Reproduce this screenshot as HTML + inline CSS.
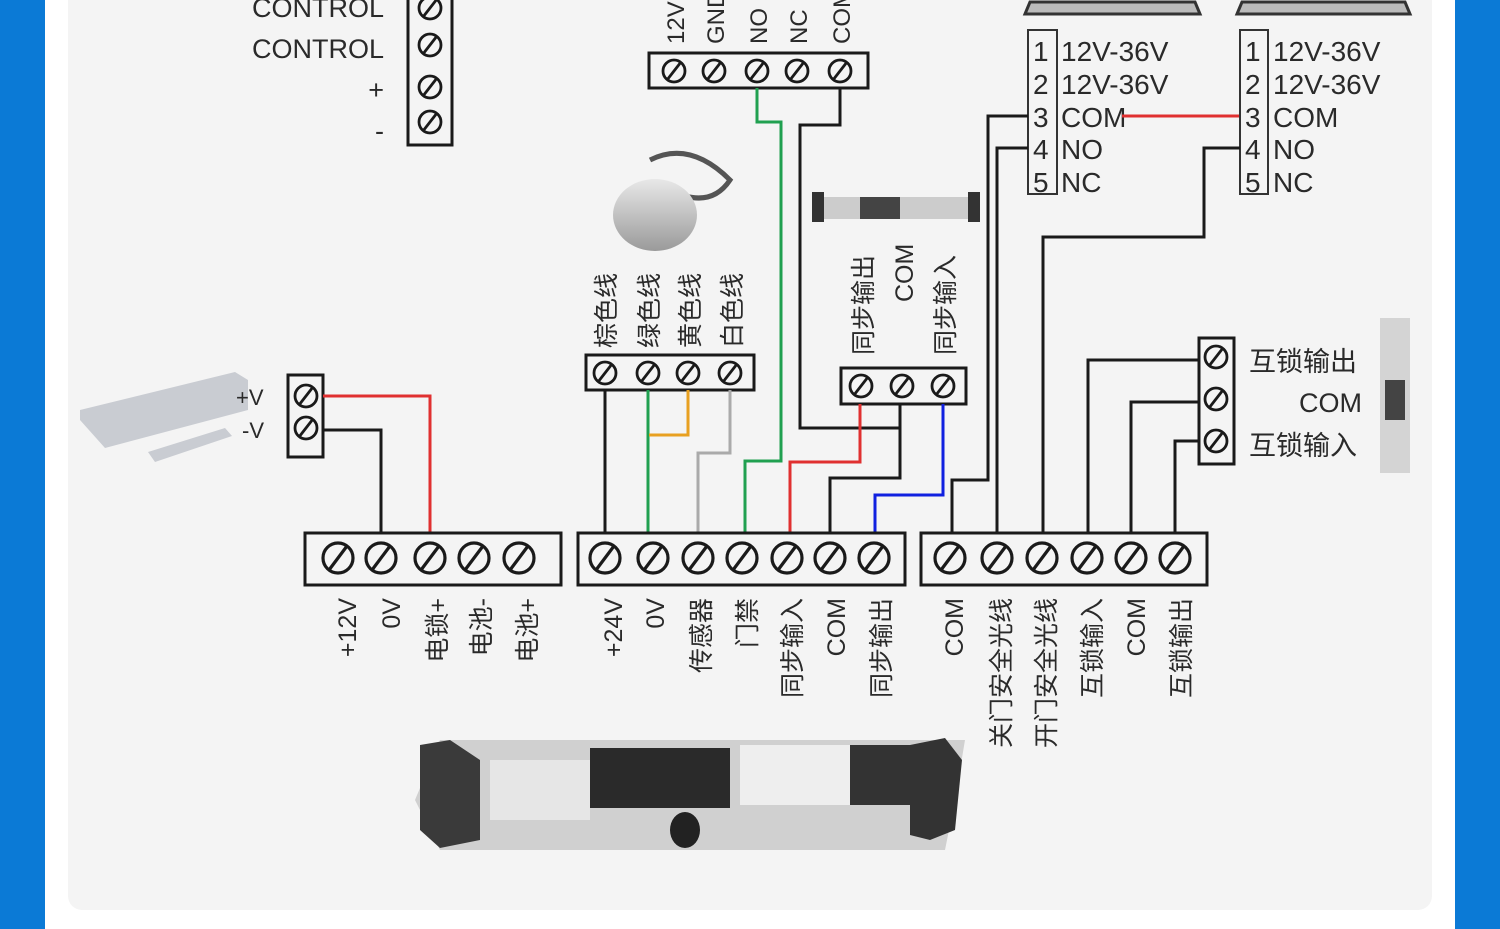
<!DOCTYPE html>
<html><head><meta charset="utf-8"><style>
html,body{margin:0;padding:0;width:1500px;height:929px;overflow:hidden;background:#0b7ad6;}
svg{display:block}
text{font-family:"Liberation Sans","Noto Sans CJK SC",sans-serif;fill:#2a2a2a}
</style></head><body>
<svg width="1500" height="929" viewBox="0 0 1500 929">
<defs>
<g id="s"><circle r="15" fill="none" stroke="#1a1a1a" stroke-width="3.2"/><line x1="9" y1="-12" x2="-9" y2="12" stroke="#1a1a1a" stroke-width="3.2"/></g>
<g id="m"><circle r="11" fill="none" stroke="#1a1a1a" stroke-width="2.8"/><line x1="7" y1="-9" x2="-7" y2="9" stroke="#1a1a1a" stroke-width="2.8"/></g>
<linearGradient id="g1" x1="0" y1="0" x2="0" y2="1"><stop offset="0" stop-color="#e8e8e8"/><stop offset="1" stop-color="#9a9a9a"/></linearGradient>
</defs>
<rect x="0" y="0" width="1500" height="929" fill="#0b7ad6"/>
<rect x="45" y="0" width="1410" height="929" fill="#ffffff"/>
<rect x="68" y="-30" width="1364" height="940" rx="14" fill="#f4f4f4"/>

<!-- top-left control block -->
<rect x="408" y="-10" width="44" height="155" fill="none" stroke="#1a1a1a" stroke-width="3"/>
<use href="#m" x="430" y="8"/><use href="#m" x="430" y="45"/><use href="#m" x="430" y="87"/><use href="#m" x="430" y="122"/>
<g font-size="27" text-anchor="end"><text x="384" y="17">CONTROL</text><text x="384" y="58">CONTROL</text><text x="384" y="99">+</text><text x="384" y="140">-</text></g>

<!-- top block 12V GND NO NC COM -->
<rect x="649" y="53" width="219" height="35" fill="none" stroke="#1a1a1a" stroke-width="3"/>
<use href="#m" x="674" y="71"/><use href="#m" x="714" y="71"/><use href="#m" x="757" y="71"/><use href="#m" x="797" y="71"/><use href="#m" x="840" y="71"/>
<g font-size="24"><text transform="translate(684,44) rotate(-90)">12V</text><text transform="translate(724,44) rotate(-90)">GND</text><text transform="translate(767,44) rotate(-90)">NO</text><text transform="translate(807,44) rotate(-90)">NC</text><text transform="translate(850,44) rotate(-90)">COM</text></g>

<!-- relay boxes -->
<path d="M1025 14 L1030 2 L1195 2 L1200 14 Z" fill="#bbb" stroke="#333" stroke-width="3"/>
<path d="M1237 14 L1242 2 L1405 2 L1410 14 Z" fill="#bbb" stroke="#333" stroke-width="3"/>
<rect x="1028" y="30" width="29" height="164" fill="none" stroke="#333" stroke-width="2"/>
<rect x="1240" y="30" width="28" height="164" fill="none" stroke="#333" stroke-width="2"/>
<g font-size="28"><text x="1033" y="61">1</text><text x="1033" y="94">2</text><text x="1033" y="127">3</text><text x="1033" y="159">4</text><text x="1033" y="192">5</text>
<text x="1061" y="61">12V-36V</text><text x="1061" y="94">12V-36V</text><text x="1061" y="127">COM</text><text x="1061" y="159">NO</text><text x="1061" y="192">NC</text>
<text x="1245" y="61">1</text><text x="1245" y="94">2</text><text x="1245" y="127">3</text><text x="1245" y="159">4</text><text x="1245" y="192">5</text>
<text x="1273" y="61">12V-36V</text><text x="1273" y="94">12V-36V</text><text x="1273" y="127">COM</text><text x="1273" y="159">NO</text><text x="1273" y="192">NC</text></g>
<line x1="1122" y1="116" x2="1239" y2="116" stroke="#e03030" stroke-width="3"/>

<!-- sensor dome image -->
<path d="M650 160 q40 -20 80 20 q-20 30 -60 10" fill="none" stroke="#555" stroke-width="5"/>
<ellipse cx="655" cy="215" rx="42" ry="36" fill="url(#g1)"/>
<!-- small operator image -->
<rect x="815" y="197" width="160" height="22" fill="#ccc"/><rect x="860" y="197" width="40" height="22" fill="#444"/><rect x="812" y="192" width="12" height="30" fill="#333"/><rect x="968" y="192" width="12" height="30" fill="#333"/>
<!-- lock image -->
<path d="M80 410 L235 372 L248 380 L248 410 L105 448 L80 420 Z" fill="#c9ccd2"/>
<path d="M148 452 L225 428 L232 436 L155 462 Z" fill="#c9ccd2"/>
<!-- right sensor image -->
<rect x="1380" y="318" width="30" height="155" fill="#d4d4d4"/><rect x="1385" y="380" width="20" height="40" fill="#444"/>
<!-- big operator image -->
<path d="M415 800 L440 740 L965 740 L955 800 L945 850 L440 850 Z" fill="#d0d0d0"/>
<path d="M420 745 L450 740 L480 760 L480 840 L440 848 L420 830 Z" fill="#3a3a3a"/>
<rect x="590" y="748" width="140" height="60" fill="#2a2a2a"/><rect x="740" y="745" width="110" height="60" fill="#eee"/>
<rect x="850" y="745" width="60" height="60" fill="#333"/><path d="M910 745 L945 738 L962 760 L955 830 L930 840 L910 835 Z" fill="#333"/>
<rect x="490" y="760" width="100" height="60" fill="#e6e6e6"/><ellipse cx="685" cy="830" rx="15" ry="18" fill="#222"/>

<!-- sensor wire block -->
<rect x="586" y="355" width="168" height="35" fill="none" stroke="#1a1a1a" stroke-width="3"/>
<use href="#m" x="605" y="373"/><use href="#m" x="648" y="373"/><use href="#m" x="688" y="373"/><use href="#m" x="730" y="373"/>
<g font-size="25"><text transform="translate(615,348) rotate(-90)">棕色线</text><text transform="translate(658,348) rotate(-90)">绿色线</text><text transform="translate(699,348) rotate(-90)">黄色线</text><text transform="translate(741,348) rotate(-90)">白色线</text></g>

<!-- sync block -->
<rect x="841" y="368" width="125" height="36" fill="none" stroke="#1a1a1a" stroke-width="3"/>
<use href="#m" x="861" y="386"/><use href="#m" x="902" y="386"/><use href="#m" x="943" y="386"/>
<g font-size="25"><text transform="translate(872,355) rotate(-90)">同步输出</text><text transform="translate(913,302) rotate(-90)">COM</text><text transform="translate(954,355) rotate(-90)">同步输入</text></g>

<!-- lock block -->
<rect x="288" y="375" width="35" height="82" fill="none" stroke="#1a1a1a" stroke-width="3"/>
<use href="#m" x="306" y="396"/><use href="#m" x="306" y="428"/>
<g font-size="22"><text x="236" y="405">+V</text><text x="242" y="438">-V</text></g>

<!-- interlock block -->
<rect x="1199" y="338" width="35" height="126" fill="none" stroke="#1a1a1a" stroke-width="3"/>
<use href="#m" x="1216" y="357"/><use href="#m" x="1216" y="399"/><use href="#m" x="1216" y="441"/>
<g font-size="27"><text x="1249" y="371">互锁输出</text><text x="1299" y="412">COM</text><text x="1249" y="455">互锁输入</text></g>

<!-- wires -->
<g fill="none" stroke-width="3">
<polyline points="323,396 430,396 430,533" stroke="#e03030"/>
<polyline points="323,430 381,430 381,533" stroke="#1a1a1a"/>
<polyline points="605,390 605,533" stroke="#1a1a1a"/>
<polyline points="648,390 648,533" stroke="#20a050"/>
<polyline points="688,390 688,435 649,435" stroke="#e8a020"/>
<polyline points="730,390 730,453 698,453 698,533" stroke="#aaa"/>
<polyline points="757,88 757,122 781,122 781,461 745,461 745,533" stroke="#20a050"/>
<polyline points="840,88 840,125 800,125 800,428 900,428" stroke="#1a1a1a"/>
<polyline points="860,404 860,462 790,462 790,533" stroke="#e03030"/>
<polyline points="900,404 900,478 830,478 830,533" stroke="#1a1a1a"/>
<polyline points="943,404 943,495 875,495 875,533" stroke="#1020e0"/>
<polyline points="1028,116 988,116 988,480 952,480 952,533" stroke="#1a1a1a"/>
<polyline points="1028,148 997,148 997,533" stroke="#1a1a1a"/>
<polyline points="1240,148 1204,148 1204,237 1043,237 1043,533" stroke="#1a1a1a"/>
<polyline points="1199,360 1088,360 1088,533" stroke="#1a1a1a"/>
<polyline points="1199,402 1131,402 1131,533" stroke="#1a1a1a"/>
<polyline points="1199,441 1175,441 1175,533" stroke="#1a1a1a"/>
</g>

<!-- bottom blocks -->
<rect x="305" y="533" width="256" height="52" fill="none" stroke="#1a1a1a" stroke-width="3"/>
<rect x="578" y="533" width="327" height="52" fill="none" stroke="#1a1a1a" stroke-width="3"/>
<rect x="921" y="533" width="286" height="52" fill="none" stroke="#1a1a1a" stroke-width="3"/>
<use href="#s" x="338" y="558"/><use href="#s" x="381" y="558"/><use href="#s" x="430" y="558"/><use href="#s" x="474" y="558"/><use href="#s" x="519" y="558"/>
<use href="#s" x="605" y="558"/><use href="#s" x="653" y="558"/><use href="#s" x="698" y="558"/><use href="#s" x="742" y="558"/><use href="#s" x="787" y="558"/><use href="#s" x="830" y="558"/><use href="#s" x="874" y="558"/>
<use href="#s" x="950" y="558"/><use href="#s" x="997" y="558"/><use href="#s" x="1042" y="558"/><use href="#s" x="1087" y="558"/><use href="#s" x="1131" y="558"/><use href="#s" x="1175" y="558"/>
<g font-size="25" text-anchor="end">
<text transform="translate(356,598) rotate(-90)">+12V</text><text transform="translate(400,598) rotate(-90)">0V</text><text transform="translate(446,598) rotate(-90)">电锁+</text><text transform="translate(490,598) rotate(-90)">电池-</text><text transform="translate(536,598) rotate(-90)">电池+</text>
<text transform="translate(622,598) rotate(-90)">+24V</text><text transform="translate(664,598) rotate(-90)">0V</text><text transform="translate(710,598) rotate(-90)">传感器</text><text transform="translate(756,598) rotate(-90)">门禁</text><text transform="translate(801,598) rotate(-90)">同步输入</text><text transform="translate(845,598) rotate(-90)">COM</text><text transform="translate(890,598) rotate(-90)">同步输出</text>
<text transform="translate(963,598) rotate(-90)">COM</text><text transform="translate(1010,598) rotate(-90)">关门安全光线</text><text transform="translate(1055,598) rotate(-90)">开门安全光线</text><text transform="translate(1101,598) rotate(-90)">互锁输入</text><text transform="translate(1145,598) rotate(-90)">COM</text><text transform="translate(1190,598) rotate(-90)">互锁输出</text>
</g>
</svg>
</body></html>
